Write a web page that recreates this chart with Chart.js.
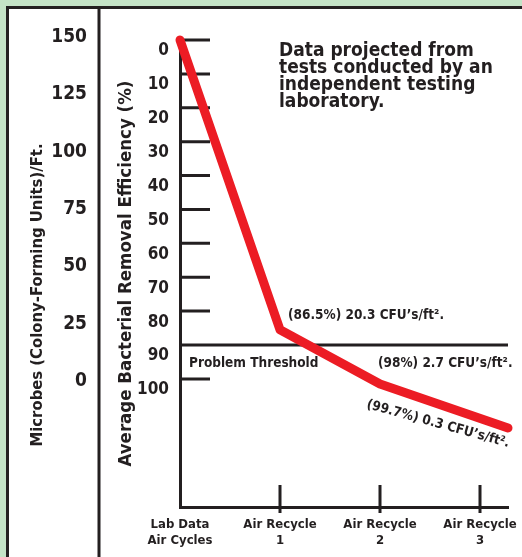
<!DOCTYPE html>
<html>
<head>
<meta charset="utf-8">
<script src="https://cdn.jsdelivr.net/npm/chart.js@4.4.1/dist/chart.umd.min.js"></script>
<style>
    html, body { margin: 0; padding: 0; background: #c4e3c6; }
    #wrap { width: 522px; height: 557px; position: relative; }
</style>
</head>
<body>
<div id="wrap"><canvas id="chart"></canvas></div>
<script>
// data
const cyclePositions = [0, 1, 2, 3.28];
const efficiencyLine = [0, 85.5, 101.5, 114.5];
const cycleTicks = [0, 1, 2, 3];
const cycleLabels = [['Lab Data', 'Air Cycles'], ['Air Recycle', '1'], ['Air Recycle', '2'], ['Air Recycle', '3']];
const efficiencyTicks = [0, 10, 20, 30, 40, 50, 60, 70, 80, 90, 100];
const microbeTicks = [0, 25, 50, 75, 100, 125, 150];
const thresholdValue = 90;
const noteLines = ['Data projected from', 'tests conducted by an', 'independent testing', 'laboratory.'];
const pointNotes = ['(86.5%) 20.3 CFU’s/ft².', '(98%) 2.7 CFU’s/ft².', '(99.7%) 0.3 CFU’s/ft².'];

const FONT = '"DejaVu Sans Condensed", "DejaVu Sans", sans-serif';
const INK = '#231f20';

const framePlugin = {
    id: 'frame',
    beforeDraw(chart) {
        const ctx = chart.ctx;
        ctx.save();
        ctx.fillStyle = '#c4e3c6';
        ctx.fillRect(0, 0, chart.width, chart.height);
        ctx.fillStyle = '#fff';
        ctx.fillRect(6, 6, chart.width, chart.height);
        ctx.strokeStyle = INK;
        ctx.lineWidth = 3;
        ctx.beginPath();
        ctx.moveTo(7.5, chart.height); ctx.lineTo(7.5, 7.5); ctx.lineTo(chart.width, 7.5);
        const divX = chart.scales.m.right;
        ctx.moveTo(divX, 7.5); ctx.lineTo(divX, chart.height);
        ctx.stroke();

        // microbes title
        ctx.fillStyle = INK;
        ctx.font = 'bold 16.5px ' + FONT;
        ctx.textAlign = 'center';
        ctx.textBaseline = 'middle';
        ctx.translate(38, 295);
        ctx.rotate(-Math.PI / 2);
        ctx.fillText('Microbes (Colony-Forming Units)/Ft.', 0, 0);
        ctx.restore();
    }
};

const marksPlugin = {
    id: 'marks',
    beforeDatasetsDraw(chart) {
        const { ctx, chartArea, scales } = chart;
        ctx.save();
        ctx.strokeStyle = INK;
        ctx.lineWidth = 3;
        ctx.beginPath();
        efficiencyTicks.forEach(v => {
            const y = scales.y.getPixelForValue(v);
            const end = v === thresholdValue ? chartArea.right : chartArea.left + 30;
            ctx.moveTo(chartArea.left, y);
            ctx.lineTo(end, y);
        });
        cycleTicks.slice(1).forEach(v => {
            const x = scales.x.getPixelForValue(v);
            ctx.moveTo(x, chartArea.bottom - 22);
            ctx.lineTo(x, chartArea.bottom + 6);
        });
        ctx.stroke();
        ctx.restore();
    },
    afterDatasetsDraw(chart) {
        const ctx = chart.ctx;
        ctx.save();
        ctx.fillStyle = INK;
        ctx.textBaseline = 'middle';
        ctx.textAlign = 'left';

        ctx.font = 'bold 19px ' + FONT;
        noteLines.forEach((t, i) => ctx.fillText(t, 279, 51 + i * 17));

        ctx.font = 'bold 13.5px ' + FONT;
        ctx.fillText(pointNotes[0], 288, 315);
        ctx.fillText('Problem Threshold', 189, 363);
        ctx.fillText(pointNotes[1], 378, 363);

        ctx.translate(438, 424);
        ctx.rotate(15.5 * Math.PI / 180);
        ctx.textAlign = 'center';
        ctx.fillText(pointNotes[2], 0, 0);
        ctx.restore();
    }
};

new Chart(document.getElementById('chart'), {
    type: 'line',
    data: {
        datasets: [{
            data: cyclePositions.map((x, i) => ({ x: x, y: efficiencyLine[i] })),
            borderColor: '#ec1c24',
            borderWidth: 9,
            borderCapStyle: 'round',
            borderJoinStyle: 'round',
            pointRadius: 0,
            tension: 0,
            clip: false,
            xAxisID: 'x',
            yAxisID: 'y'
        }]
    },
    options: {
        responsive: true,
        maintainAspectRatio: false,
        animation: false,
        layout: { padding: { left: 9, top: 40, right: 14, bottom: 0 } },
        plugins: { legend: { display: false }, tooltip: { enabled: false } },
        scales: {
            x: {
                type: 'linear',
                min: 0,
                max: 3.28,
                afterBuildTicks: s => { s.ticks = cycleTicks.map(v => ({ value: v })); },
                afterFit: s => { s.height = 50; },
                ticks: {
                    callback: v => cycleLabels[cycleTicks.indexOf(v)],
                    font: { family: FONT, weight: 'bold', size: 13, lineHeight: 1.2 },
                    color: INK,
                    padding: 2,
                    maxRotation: 0,
                    autoSkip: false
                },
                grid: { display: false },
                border: { display: true, color: INK, width: 3 }
            },
            y: {
                type: 'linear',
                position: 'left',
                weight: 0,
                reverse: true,
                min: 0,
                max: 137.8,
                afterBuildTicks: s => { s.ticks = efficiencyTicks.map(v => ({ value: v })); },
                afterFit: s => { s.width = 81; },
                ticks: {
                    font: { family: FONT, weight: 'bold', size: 17 },
                    color: INK,
                    padding: 3,
                    labelOffset: 11
                },
                grid: { display: false },
                border: { display: true, color: INK, width: 3 },
                title: {
                    display: true,
                    text: 'Average Bacterial Removal Efficiency (%)',
                    font: { family: FONT, weight: 'bold', size: 18.5 },
                    color: INK,
                    padding: { top: 16, bottom: 0 }
                }
            },
            m: {
                type: 'linear',
                position: 'left',
                weight: 1,
                min: -53.6,
                max: 150,
                afterBuildTicks: s => { s.ticks = microbeTicks.map(v => ({ value: v })); },
                afterFit: s => { s.width = 90; },
                ticks: {
                    font: { family: FONT, weight: 'bold', size: 19 },
                    color: INK,
                    padding: 4,
                    labelOffset: -3
                },
                grid: { display: false },
                border: { display: false }
            }
        }
    },
    plugins: [framePlugin, marksPlugin]
});
</script>
</body>
</html>
